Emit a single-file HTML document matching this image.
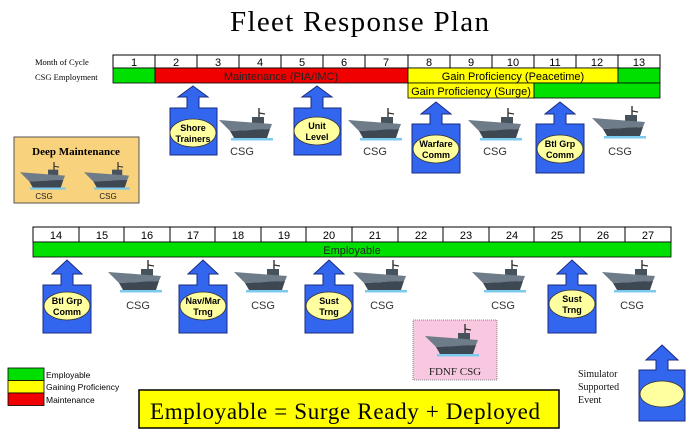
<!DOCTYPE html>
<html><head><meta charset="utf-8"><style>
html,body{margin:0;padding:0;background:#fff;}
svg{display:block;}
text{font-family:"Liberation Sans",sans-serif;}
.sf{font-family:"Liberation Serif",serif;}
</style></head><body>
<svg width="690" height="432" viewBox="0 0 690 432" xmlns="http://www.w3.org/2000/svg">
<defs>
<g id="ship">
  <line x1="40" y1="0" x2="40" y2="14" stroke="#333" stroke-width="1.4"/>
  <line x1="40" y1="5" x2="46" y2="6" stroke="#333" stroke-width="1.2"/>
  <rect x="33" y="9" width="12" height="14" fill="#46525c"/>
  <polygon points="0,12 53,16 51,21 11,23" fill="#6e7b88"/>
  <polygon points="11,23 51,21 48,30 15,30" fill="#3e4852"/>
  <rect x="12" y="30" width="42" height="2.5" fill="#7ccbee"/>
</g>
</defs>

<text x="230" y="31" class="sf" font-size="29" textLength="259" fill="#000">Fleet Response Plan</text>

<text x="35" y="65" class="sf" font-size="8.5">Month of Cycle</text>
<text x="35" y="80" class="sf" font-size="8.5">CSG Employment</text>
<rect x="113" y="55" width="547" height="13" fill="#fff" stroke="#000" stroke-width="1"/>
<g font-size="11" text-anchor="middle">
<text x="134" y="66">1</text><text x="176" y="66">2</text><text x="218" y="66">3</text><text x="260" y="66">4</text><text x="302" y="66">5</text><text x="344" y="66">6</text><text x="386" y="66">7</text><text x="429" y="66">8</text><text x="471" y="66">9</text><text x="513" y="66">10</text><text x="555" y="66">11</text><text x="597" y="66">12</text><text x="639" y="66">13</text>
</g>
<g stroke="#000" stroke-width="1">
<line x1="155" y1="55" x2="155" y2="68"/><line x1="197" y1="55" x2="197" y2="68"/><line x1="239" y1="55" x2="239" y2="68"/><line x1="281" y1="55" x2="281" y2="68"/><line x1="323" y1="55" x2="323" y2="68"/><line x1="365" y1="55" x2="365" y2="68"/><line x1="408" y1="55" x2="408" y2="68"/><line x1="450" y1="55" x2="450" y2="68"/><line x1="492" y1="55" x2="492" y2="68"/><line x1="534" y1="55" x2="534" y2="68"/><line x1="576" y1="55" x2="576" y2="68"/><line x1="618" y1="55" x2="618" y2="68"/>
</g>
<rect x="113" y="68" width="42" height="15" fill="#00e000" stroke="#000" stroke-width="0.8"/>
<rect x="155" y="68" width="253" height="15" fill="#f00000" stroke="#000" stroke-width="0.8"/>
<rect x="408" y="68" width="210" height="15" fill="#ffff00" stroke="#000" stroke-width="0.8"/>
<rect x="618" y="68" width="42" height="15" fill="#00e000" stroke="#000" stroke-width="0.8"/>
<rect x="408" y="83" width="126" height="15" fill="#ffff00" stroke="#000" stroke-width="0.8"/>
<rect x="534" y="83" width="126" height="15" fill="#00e000" stroke="#000" stroke-width="0.8"/>
<text x="281" y="80" font-size="11" text-anchor="middle" fill="#222">Maintenance (PIA/IMC)</text>
<text x="513" y="80" font-size="11" text-anchor="middle">Gain Proficiency (Peacetime)</text>
<text x="471" y="95" font-size="11" text-anchor="middle">Gain Proficiency (Surge)</text>

<g fill="#3366ee" stroke="#1a2a80" stroke-width="1">
<path d="M193,86 L208,97 L199,97 L199,108 L217,108 L217,155 L170,155 L170,108 L187,108 L187,97 L178,97 Z"/>
<path d="M317,86 L332,97 L323,97 L323,108 L341,108 L341,155 L294,155 L294,108 L311,108 L311,97 L302,97 Z"/>
<path d="M436,102 L451,114 L442,114 L442,124 L460,124 L460,173 L412,173 L412,124 L430,124 L430,114 L421,114 Z"/>
<path d="M560,102 L575,114 L566,114 L566,124 L584,124 L584,173 L536,173 L536,124 L554,124 L554,114 L545,114 Z"/>
</g>
<g fill="#ffffa0" stroke="#333" stroke-width="0.8">
<ellipse cx="193" cy="133" rx="23" ry="14"/>
<ellipse cx="317" cy="131" rx="23" ry="14"/>
<ellipse cx="436" cy="149" rx="23" ry="14"/>
<ellipse cx="560" cy="149" rx="23" ry="14"/>
</g>
<g font-size="9" font-weight="bold" text-anchor="middle" fill="#000">
<text x="193" y="131">Shore</text><text x="193" y="142">Trainers</text>
<text x="317" y="129">Unit</text><text x="317" y="140">Level</text>
<text x="436" y="147">Warfare</text><text x="436" y="158">Comm</text>
<text x="560" y="147">Btl Grp</text><text x="560" y="158">Comm</text>
</g>
<use href="#ship" x="219" y="108"/>
<use href="#ship" x="348" y="108"/>
<use href="#ship" x="468" y="108"/>
<use href="#ship" x="592" y="106"/>
<g font-size="11" text-anchor="middle" fill="#333">
<text x="242" y="155">CSG</text><text x="375" y="155">CSG</text><text x="495" y="155">CSG</text><text x="620" y="155">CSG</text>
</g>

<rect x="14" y="137" width="125" height="66" fill="#f8d27c" stroke="#555" stroke-width="1"/>
<text x="76" y="155" class="sf" font-size="11" font-weight="bold" text-anchor="middle">Deep Maintenance</text>
<use href="#ship" transform="translate(20,162) scale(0.85)"/>
<use href="#ship" transform="translate(84,162) scale(0.85)"/>
<g font-size="8" text-anchor="middle" fill="#222">
<text x="44" y="199">CSG</text><text x="108" y="199">CSG</text>
</g>

<rect x="33" y="227" width="638" height="15" fill="#fff" stroke="#000" stroke-width="1"/>
<g stroke="#000" stroke-width="1">
<line x1="79" y1="227" x2="79" y2="242"/><line x1="124" y1="227" x2="124" y2="242"/><line x1="170" y1="227" x2="170" y2="242"/><line x1="215" y1="227" x2="215" y2="242"/><line x1="261" y1="227" x2="261" y2="242"/><line x1="306" y1="227" x2="306" y2="242"/><line x1="352" y1="227" x2="352" y2="242"/><line x1="398" y1="227" x2="398" y2="242"/><line x1="443" y1="227" x2="443" y2="242"/><line x1="489" y1="227" x2="489" y2="242"/><line x1="534" y1="227" x2="534" y2="242"/><line x1="580" y1="227" x2="580" y2="242"/><line x1="625" y1="227" x2="625" y2="242"/>
</g>
<g font-size="11" text-anchor="middle">
<text x="56" y="239">14</text><text x="102" y="239">15</text><text x="147" y="239">16</text><text x="193" y="239">17</text><text x="238" y="239">18</text><text x="284" y="239">19</text><text x="329" y="239">20</text><text x="375" y="239">21</text><text x="421" y="239">22</text><text x="466" y="239">23</text><text x="512" y="239">24</text><text x="557" y="239">25</text><text x="603" y="239">26</text><text x="648" y="239">27</text>
</g>
<rect x="33" y="242" width="638" height="15" fill="#00e000" stroke="#000" stroke-width="0.8"/>
<text x="352" y="254" font-size="11" text-anchor="middle" fill="#222">Employable</text>

<g fill="#3366ee" stroke="#1a2a80" stroke-width="1">
<path d="M67,260 L82,274 L73,274 L73,285 L91,285 L91,333 L43,333 L43,285 L61,285 L61,274 L52,274 Z"/>
<path d="M203,260 L218,274 L209,274 L209,285 L227,285 L227,333 L179,333 L179,285 L197,285 L197,274 L188,274 Z"/>
<path d="M329,260 L344,274 L335,274 L335,285 L353,285 L353,333 L305,333 L305,285 L323,285 L323,274 L314,274 Z"/>
<path d="M572,260 L587,274 L578,274 L578,285 L596,285 L596,333 L548,333 L548,285 L566,285 L566,274 L557,274 Z"/>
<path d="M662,345 L678,360 L668,360 L668,370 L685,370 L685,421 L639,421 L639,370 L656,370 L656,360 L646,360 Z"/>
</g>
<g fill="#ffffa0" stroke="#333" stroke-width="0.8">
<ellipse cx="67" cy="306" rx="23" ry="14"/>
<ellipse cx="203" cy="306" rx="23" ry="14"/>
<ellipse cx="329" cy="306" rx="23" ry="14"/>
<ellipse cx="572" cy="304" rx="23" ry="14"/>
<ellipse cx="662" cy="394" rx="22" ry="13"/>
</g>
<g font-size="9" font-weight="bold" text-anchor="middle" fill="#000">
<text x="67" y="304">Btl Grp</text><text x="67" y="315">Comm</text>
<text x="203" y="304">Nav/Mar</text><text x="203" y="315">Trng</text>
<text x="329" y="304">Sust</text><text x="329" y="315">Trng</text>
<text x="572" y="302">Sust</text><text x="572" y="313">Trng</text>
</g>
<use href="#ship" x="108" y="260"/>
<use href="#ship" x="234" y="260"/>
<use href="#ship" x="353" y="260"/>
<use href="#ship" x="472" y="260"/>
<use href="#ship" x="602" y="260"/>
<g font-size="11" text-anchor="middle" fill="#333">
<text x="138" y="309">CSG</text><text x="263" y="309">CSG</text><text x="382" y="309">CSG</text><text x="503" y="309">CSG</text><text x="632" y="309">CSG</text>
</g>

<rect x="413" y="320" width="84" height="60" fill="#f8c8e0" stroke="#666" stroke-width="0.8" stroke-dasharray="1,1"/>
<use href="#ship" x="425" y="324"/>
<text x="455" y="375" class="sf" font-size="11" text-anchor="middle" fill="#222">FDNF CSG</text>

<rect x="8" y="368" width="36" height="12.5" fill="#00e000" stroke="#000" stroke-width="0.8"/>
<rect x="8" y="380.5" width="36" height="12.5" fill="#ffff00" stroke="#000" stroke-width="0.8"/>
<rect x="8" y="393" width="36" height="12.5" fill="#f00000" stroke="#000" stroke-width="0.8"/>
<g font-size="8.5" fill="#000">
<text x="46" y="378">Employable</text><text x="46" y="390">Gaining Proficiency</text><text x="46" y="403">Maintenance</text>
</g>

<rect x="139" y="390" width="420" height="38" fill="#ffff00" stroke="#000" stroke-width="1.5"/>
<text x="150" y="419" class="sf" font-size="23" textLength="390" fill="#000">Employable = Surge Ready + Deployed</text>

<text x="578" y="377" class="sf" font-size="10" fill="#111">Simulator</text>
<text x="578" y="390" class="sf" font-size="10" fill="#111">Supported</text>
<text x="578" y="403" class="sf" font-size="10" fill="#111">Event</text>
</svg>
</body></html>
